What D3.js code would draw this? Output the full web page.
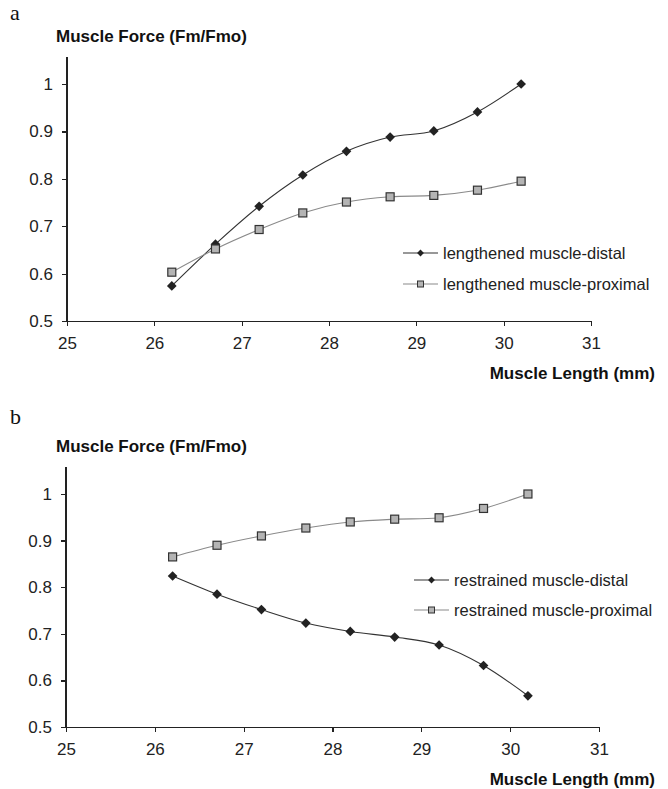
<!DOCTYPE html>
<html>
<head>
<meta charset="utf-8">
<script src="https://cdn.jsdelivr.net/npm/d3@7"></script>
<style>
    body { margin: 0; background: #fff; }
    svg text { font-family: "Liberation Sans", Arial, sans-serif; fill: #222; }
    .axis path, .axis line { stroke: #222; stroke-width: 1.2; shape-rendering: crispEdges; }
    .axis text { font-size: 17px; }
    .title { font-size: 17px; font-weight: bold; fill: #111; }
    .letter { font-family: "Liberation Serif", "Times New Roman", serif !important; font-size: 22px; fill: #111; }
    .legend text { font-size: 16.5px; }
</style>
</head>
<body>
<svg id="chart" width="668" height="789"></svg>
<script>
// muscle length (mm) at each measurement
var lengths = [26.2, 26.7, 27.2, 27.7, 28.2, 28.7, 29.2, 29.7, 30.2];

// panel a
var lengthenedDistal   = [0.574, 0.662, 0.742, 0.808, 0.858, 0.888, 0.901, 0.941, 1.000];
var lengthenedProximal = [0.603, 0.652, 0.693, 0.728, 0.751, 0.762, 0.765, 0.776, 0.795];

// panel b
var restrainedDistal   = [0.824, 0.785, 0.752, 0.723, 0.705, 0.693, 0.676, 0.632, 0.567];
var restrainedProximal = [0.865, 0.890, 0.910, 0.927, 0.940, 0.946, 0.949, 0.969, 1.000];

var xTicks = [25, 26, 27, 28, 29, 30, 31];
var yTicks = [0.5, 0.6, 0.7, 0.8, 0.9, 1];

var svg = d3.select('#chart');

var panels = [
    {
        letter: 'a', top: 0, x0: 67, x1: 591, yBottom: 321, yOne: 84,
        legendX: 403, legendY: [253, 284],
        series: [
            { name: 'lengthened muscle-distal', values: lengthenedDistal, type: 'distal' },
            { name: 'lengthened muscle-proximal', values: lengthenedProximal, type: 'proximal' }
        ]
    },
    {
        letter: 'b', top: 404, x0: 66, x1: 599, yBottom: 727, yOne: 494,
        legendX: 414, legendY: [580, 610],
        series: [
            { name: 'restrained muscle-distal', values: restrainedDistal, type: 'distal' },
            { name: 'restrained muscle-proximal', values: restrainedProximal, type: 'proximal' }
        ]
    }
];

var styles = {
    distal:   { line: '#333', width: 1.1 },
    proximal: { line: '#8a8a8a', width: 1.1 }
};

function drawMarker(g, type, cx, cy) {
    if (type === 'distal') {
        g.append('path')
            .attr('d', d3.symbol().type(d3.symbolDiamond2).size(60)())
            .attr('transform', 'translate(' + cx + ',' + cy + ')')
            .attr('fill', '#222');
    } else {
        g.append('rect')
            .attr('x', cx - 4).attr('y', cy - 4)
            .attr('width', 8).attr('height', 8)
            .attr('fill', '#b4b4b4')
            .attr('stroke', '#333')
            .attr('stroke-width', 1.2);
    }
}

panels.forEach(function(p) {
    var x = d3.scaleLinear().domain([25, 31]).range([p.x0, p.x1]),
        y = d3.scaleLinear().domain([0.5, 1]).range([p.yBottom, p.yOne]);

    var g = svg.append('g');

    // panel letter and y title
    g.append('text').attr('class', 'letter')
        .attr('x', 10).attr('y', p.top + 20)
        .text(p.letter);
    g.append('text').attr('class', 'title')
        .attr('x', 56).attr('y', y(1) - 42)
        .text('Muscle Force (Fm/Fmo)');

    // axes
    var yAxis = d3.axisLeft(y).tickValues(yTicks).tickSize(5).tickPadding(9)
        .tickFormat(function(d) { return d === 1 ? '1' : d3.format('.1f')(d); });
    g.append('g').attr('class', 'axis')
        .attr('transform', 'translate(' + p.x0 + ',0)')
        .call(yAxis)
        .call(function(a) {
            a.select('.domain').attr('d', 'M0,' + y(1.057) + 'V' + y(0.5));
        });

    var xAxis = d3.axisBottom(x).tickValues(xTicks).tickSize(5).tickPadding(11).tickSizeOuter(0)
        .tickFormat(d3.format('d'));
    g.append('g').attr('class', 'axis')
        .attr('transform', 'translate(0,' + p.yBottom + ')')
        .call(xAxis);

    g.append('text').attr('class', 'title')
        .attr('x', 655).attr('y', p.yBottom + 58)
        .attr('text-anchor', 'end')
        .text('Muscle Length (mm)');

    // series: smoothed lines with markers
    var line = d3.line()
        .x(function(d, i) { return x(lengths[i]); })
        .y(function(d) { return y(d); })
        .curve(d3.curveCardinal);

    p.series.forEach(function(s) {
        g.append('path')
            .datum(s.values)
            .attr('d', line)
            .attr('fill', 'none')
            .attr('stroke', styles[s.type].line)
            .attr('stroke-width', styles[s.type].width);
    });
    p.series.forEach(function(s) {
        s.values.forEach(function(v, i) {
            drawMarker(g, s.type, x(lengths[i]), y(v));
        });
    });

    // legend
    var legend = g.append('g').attr('class', 'legend');
    p.series.forEach(function(s, i) {
        var ly = p.legendY[i];
        legend.append('line')
            .attr('x1', p.legendX).attr('x2', p.legendX + 35)
            .attr('y1', ly).attr('y2', ly)
            .attr('stroke', styles[s.type].line)
            .attr('stroke-width', 1.2);
        if (s.type === 'distal') {
            legend.append('path')
                .attr('d', d3.symbol().type(d3.symbolDiamond2).size(30)())
                .attr('transform', 'translate(' + (p.legendX + 17.5) + ',' + ly + ')')
                .attr('fill', '#222');
        } else {
            legend.append('rect')
                .attr('x', p.legendX + 14.5).attr('y', ly - 3)
                .attr('width', 6).attr('height', 6)
                .attr('fill', '#b4b4b4').attr('stroke', '#333');
        }
        legend.append('text')
            .attr('x', p.legendX + 40).attr('y', ly)
            .attr('dy', '0.35em')
            .text(s.name);
    });
});
</script>
</body>
</html>
